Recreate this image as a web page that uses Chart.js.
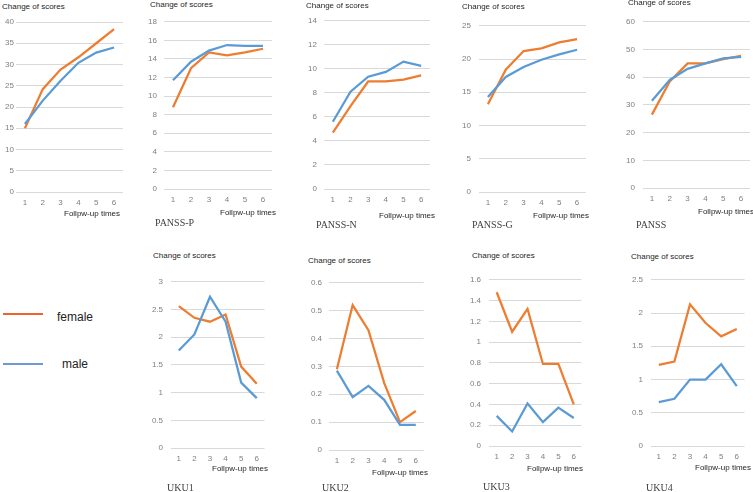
<!DOCTYPE html>
<html>
<head>
<meta charset="utf-8">
<script src="https://cdn.jsdelivr.net/npm/chart.js@4.4.1/dist/chart.umd.min.js"></script>
<style>
  html, body { margin: 0; padding: 0; background: #fff; }
  #page { position: relative; width: 753px; height: 492px; overflow: hidden; font-family: "Liberation Sans", Arial, sans-serif; }
  .txt { position: absolute; white-space: nowrap; transform: translateY(-50%); line-height: 1; }
  .ttl { font-size: 8px; color: #262626; }
  .xt { font-size: 8px; color: #262626; }
  .lbl { font-family: "Liberation Serif", "DejaVu Serif", serif; font-size: 10px; color: #404040; }
  .leg { font-size: 12px; color: #222; }
  .legline { position: absolute; height: 2px; }
  canvas { position: absolute; }
</style>
</head>
<body>
<div id="page"></div>
<script>
// follow-up visits
const followUps = ['1', '2', '3', '4', '5', '6'];

// change of scores, female / male
const totalFemale   = [15, 24.2, 28.8, 31.7, 35, 38.3];
const totalMale     = [16, 21.5, 26.2, 30.4, 32.8, 34];
const panssPFemale  = [8.8, 13.0, 14.7, 14.4, 14.7, 15.1];
const panssPMale    = [11.7, 13.7, 14.9, 15.5, 15.4, 15.4];
const panssNFemale  = [4.7, 6.9, 8.95, 8.95, 9.1, 9.45];
const panssNMale    = [5.6, 8.1, 9.35, 9.75, 10.6, 10.25];
const panssGFemale  = [13.2, 18.4, 21.2, 21.6, 22.5, 23.0];
const panssGMale    = [14.3, 17.3, 18.8, 19.9, 20.7, 21.4];
const panssFemale   = [26.5, 38.5, 45, 45, 46.5, 47.7];
const panssMale     = [31.5, 39, 43, 45, 46.8, 47.3];
const uku1Female    = [2.56, 2.35, 2.28, 2.41, 1.47, 1.16];
const uku1Male      = [1.76, 2.05, 2.73, 2.28, 1.18, 0.9];
const uku2Female    = [0.29, 0.52, 0.43, 0.24, 0.10, 0.14];
const uku2Male      = [0.285, 0.19, 0.23, 0.18, 0.09, 0.09];
const uku3Female    = [1.48, 1.10, 1.32, 0.79, 0.79, 0.40];
const uku3Male      = [0.29, 0.14, 0.41, 0.23, 0.37, 0.27];
const uku4Female    = [1.22, 1.27, 2.13, 1.85, 1.65, 1.76];
const uku4Male      = [0.66, 0.71, 1.0, 1.0, 1.23, 0.9];

const FEMALE_COLOR = '#ED7D31';
const MALE_COLOR = '#5B9BD5';

// panel layout: plot box (left, right, top gridline, zero gridline) and text spots
const panels = [
  { female: totalFemale,  male: totalMale,  max: 40,  step: 5,   l: 16,  r: 123, t: 22,  b: 192, gap: 2, title: [2, 7],     xt: [64, 214] },
  { female: panssPFemale, male: panssPMale, max: 18,  step: 2,   l: 164, r: 272, t: 18,  b: 189, gap: 7, title: [150, 5],   xt: [220, 213], name: 'PANSS-P', np: [155, 223] },
  { female: panssNFemale, male: panssNMale, max: 14,  step: 2,   l: 324, r: 430, t: 17,  b: 189, gap: 7, title: [306, 6],   xt: [379, 216], name: 'PANSS-N', np: [316, 225] },
  { female: panssGFemale, male: panssGMale, max: 25,  step: 5,   l: 479, r: 586, t: 21,  b: 192, gap: 8, title: [462, 7],   xt: [533, 216], name: 'PANSS-G', np: [472, 225] },
  { female: panssFemale,  male: panssMale,  max: 60,  step: 10,  l: 643, r: 750, t: 17,  b: 188, gap: 8, title: [628, 3],   xt: [698, 212], name: 'PANSS',   np: [636, 225] },
  { female: uku1Female,   male: uku1Male,   max: 3,   step: 0.5, l: 171, r: 265, t: 277, b: 448, gap: 8, title: [153, 256], xt: [212, 469], name: 'UKU1',    np: [167, 488] },
  { female: uku2Female,   male: uku2Male,   max: 0.6, step: 0.1, l: 329, r: 424, t: 279, b: 450, gap: 7, title: [308, 261], xt: [372, 473], name: 'UKU2',    np: [322, 488] },
  { female: uku3Female,   male: uku3Male,   max: 1.6, step: 0.2, l: 489, r: 582, t: 275, b: 446, gap: 8, title: [472, 256], xt: [527, 469], name: 'UKU3',    np: [483, 487] },
  { female: uku4Female,   male: uku4Male,   max: 2.5, step: 0.5, l: 651, r: 745, t: 275, b: 446, gap: 8, title: [631, 257], xt: [695, 468], name: 'UKU4',    np: [646, 488] }
];

const page = document.getElementById('page');
const YW = 30, PT = 8, XH = 18;

const addText = (cls, text, x, y) => {
  const d = document.createElement('div');
  d.className = 'txt ' + cls;
  d.textContent = text;
  d.style.left = x + 'px';
  d.style.top = y + 'px';
  page.appendChild(d);
};

const tickFont = { family: '"Liberation Sans", Arial, sans-serif', size: 8 };

panels.forEach(p => {
  const w = YW + (p.r - p.l);
  const h = PT + (p.b - p.t) + XH;
  const cv = document.createElement('canvas');
  cv.width = w; cv.height = h;
  cv.style.width = w + 'px'; cv.style.height = h + 'px';
  cv.style.left = (p.l - YW) + 'px';
  cv.style.top = (p.t - PT) + 'px';
  page.appendChild(cv);

  new Chart(cv.getContext('2d'), {
    type: 'line',
    data: {
      labels: followUps,
      datasets: [
        { label: 'male', data: p.male, borderColor: MALE_COLOR, borderWidth: 2.25, pointRadius: 0, tension: 0 },
        { label: 'female', data: p.female, borderColor: FEMALE_COLOR, borderWidth: 2.25, pointRadius: 0, tension: 0 }
      ]
    },
    options: {
      responsive: false,
      animation: false,
      layout: { padding: { top: PT, left: 0, right: 0, bottom: 0 } },
      plugins: { legend: { display: false }, tooltip: { enabled: false } },
      scales: {
        x: {
          offset: true,
          grid: { display: false, drawTicks: false },
          border: { display: false },
          ticks: { font: tickFont, color: '#7f7f7f', padding: 6, maxRotation: 0 },
          afterFit: s => { s.height = XH; }
        },
        y: {
          min: 0,
          max: p.max,
          grid: { color: '#d9d9d9', lineWidth: 1, drawTicks: false },
          border: { display: false },
          ticks: {
            stepSize: p.step,
            font: tickFont,
            color: '#7f7f7f',
            padding: p.gap,
            callback: v => String(+v.toFixed(2))
          },
          afterFit: s => { s.width = YW; }
        }
      }
    }
  });

  addText('ttl', 'Change of scores', p.title[0], p.title[1]);
  addText('xt', 'Follpw-up times', p.xt[0], p.xt[1]);
  if (p.name) addText('lbl', p.name, p.np[0], p.np[1]);
});

// legend
const legLine = (color, y) => {
  const d = document.createElement('div');
  d.className = 'legline';
  d.style.left = '3px';
  d.style.width = '40px';
  d.style.top = (y - 1) + 'px';
  d.style.background = color;
  page.appendChild(d);
};
legLine('#EF6330', 314);
legLine('#7099D4', 364);
addText('leg', 'female', 57, 317);
addText('leg', 'male', 62, 364);
</script>
</body>
</html>
